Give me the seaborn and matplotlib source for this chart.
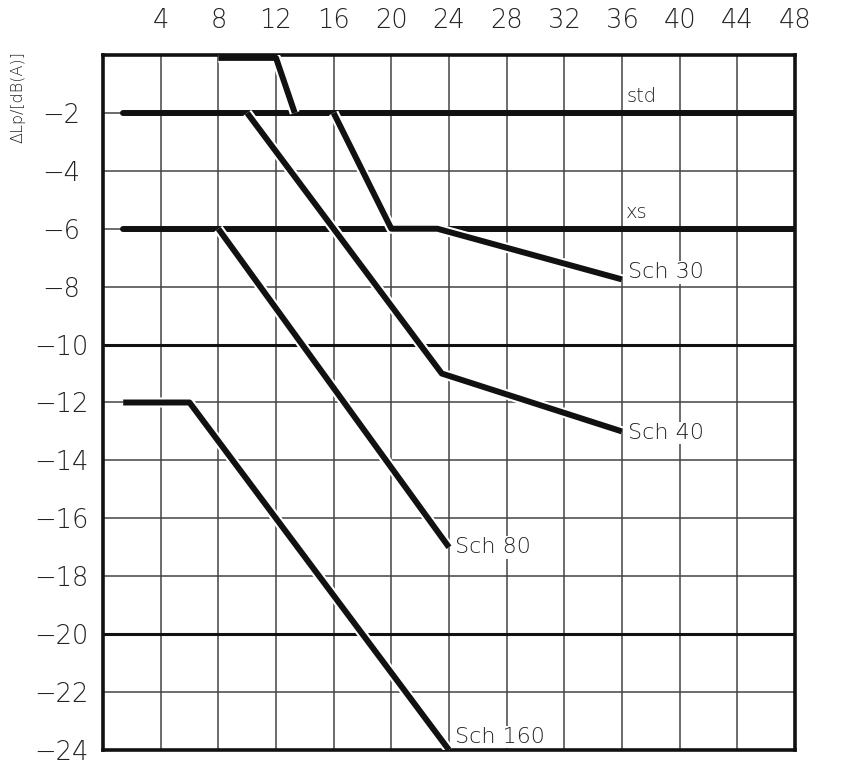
import numpy as np
import matplotlib
matplotlib.use("Agg")
import matplotlib.pyplot as plt
import matplotlib.patheffects as pe
import seaborn as sns

# Kurven ablesen aus dem Bild (x: Wanddicke-Index, y: Pegelminderung)
std_x = [1.4, 48]
std_y = [-2, -2]
xs_x = [1.4, 48]
xs_y = [-6, -6]
top_x = [8, 12, 13.3]
top_y = [-0.1, -0.1, -2]
sch30_x = [16, 20, 23.2, 36]
sch30_y = [-2, -6, -6, -7.75]
sch40_x = [10, 23.5, 36]
sch40_y = [-2, -11, -13]
sch80_x = [8, 24]
sch80_y = [-6, -17]
sch160_x = [1.4, 6, 24]
sch160_y = [-12, -12, -24]

x_ticks = list(range(4, 49, 4))
y_ticks = list(range(-2, -25, -2))
bold_y = [-10, -20]

sns.set_style("white")
plt.rcParams['font.family'] = ['DejaVu Sans']
plt.rcParams['font.weight'] = 'light'

fig = plt.figure(figsize=(8.66, 7.64), dpi=100)
ax = fig.add_axes([103 / 866, 14 / 764, 692 / 866, 695 / 764])

lw = 4.3
outline = [pe.Stroke(linewidth=lw + 3, foreground='white'), pe.Normal()]

# Grundlinien std und xs
for xx, yy in [(std_x, std_y), (xs_x, xs_y)]:
    sns.lineplot(x=xx, y=yy, ax=ax, sort=False, estimator=None,
                 color='#111111', linewidth=lw, zorder=3)

# Schedule-Kurven mit weisser Kontur (wie CAD-Zeichnung)
for xx, yy in [(top_x, top_y), (sch30_x, sch30_y), (sch40_x, sch40_y),
               (sch80_x, sch80_y), (sch160_x, sch160_y)]:
    l = sns.lineplot(x=xx, y=yy, ax=ax, sort=False, estimator=None,
                     color='#111111', linewidth=lw, zorder=4)
    l.lines[-1].set_path_effects(outline)
    l.lines[-1].set_solid_capstyle('butt')

ax.set_xlim(0, 48)
ax.set_ylim(-24, 0)
ax.set_xticks(x_ticks)
ax.set_yticks(y_ticks)
ax.xaxis.tick_top()
ax.tick_params(axis='x', length=0, pad=16, labelsize=18.5, labelcolor='#222222')
ax.tick_params(axis='y', length=0, pad=30, labelsize=18.5, labelcolor='#222222')
for t in ax.get_yticklabels():
    t.set_horizontalalignment('center')
    t.set_fontweight('light')
for t in ax.get_xticklabels():
    t.set_fontweight('light')

ax.grid(True, color='#444444', linewidth=1.1, zorder=1)
ax.set_axisbelow(True)
for yb in bold_y:
    ax.axhline(yb, color='#111111', linewidth=2.2, zorder=2)

for s in ax.spines.values():
    s.set_linewidth(2.6)
    s.set_color('#111111')

ax.set_ylabel('ΔLp/[dB(A)]', fontsize=11.5, color='#222222', fontweight='light')
ax.yaxis.set_label_coords(-0.112, 0.94)

box = dict(facecolor='white', edgecolor='none', pad=1)
kw = dict(color='#222222', fontweight='light', zorder=5)
ax.text(36.3, -1.75, 'std', fontsize=14, va='bottom', **kw)
ax.text(36.3, -5.75, 'xs', fontsize=14, va='bottom', **kw)
ax.text(36.4, -7.5, 'Sch 30', fontsize=16, va='center', bbox=box, **kw)
ax.text(36.4, -13.05, 'Sch 40', fontsize=16, va='center', bbox=box, **kw)
ax.text(24.4, -17.0, 'Sch 80', fontsize=16, va='center', bbox=box, **kw)
ax.text(24.4, -23.55, 'Sch 160', fontsize=16, va='center', bbox=box, **kw)

fig.savefig('out.png', dpi=100)
